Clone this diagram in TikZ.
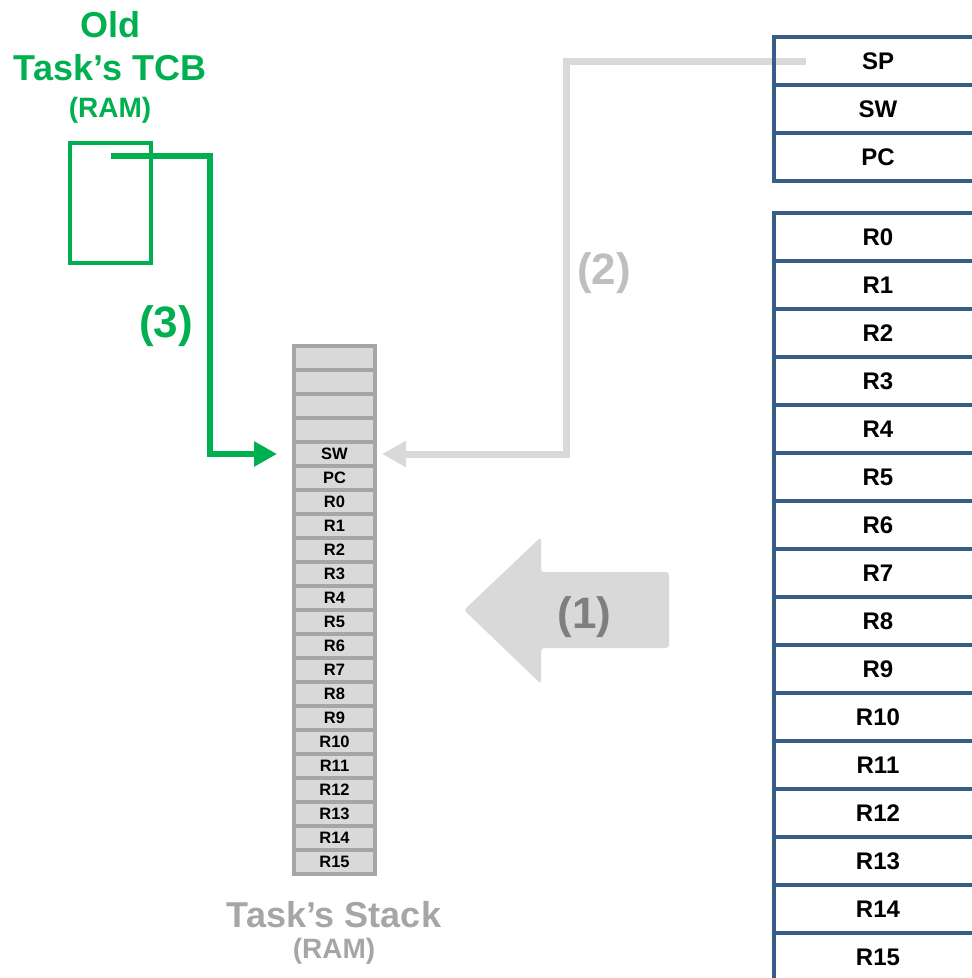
\documentclass[tikz,border=0pt]{standalone}
\usepackage{fontspec}
\setmainfont{Liberation Sans}
\usetikzlibrary{arrows.meta}

\definecolor{tcbgreen}{HTML}{00B050}
\definecolor{regblue}{HTML}{385D8A}
\definecolor{stackfill}{HTML}{D9D9D9}
\definecolor{stackline}{HTML}{A6A6A6}
\definecolor{stepgray}{HTML}{D9D9D9}
\definecolor{steplabel}{HTML}{BFBFBF}
\definecolor{bigarrowlabel}{HTML}{7F7F7F}

\begin{document}
\begin{tikzpicture}[x=1pt, y=-1pt,
	stackcell/.style={draw=stackline, fill=stackfill, line width=4pt, minimum width=81pt, minimum height=24pt, inner sep=0pt, font=\fontsize{16.5}{18}\selectfont\bfseries},
	regcell/.style={draw=regblue, line width=4pt, minimum width=208pt, minimum height=48pt, inner sep=0pt, font=\fontsize{24}{28}\selectfont\bfseries},
	bigtext/.style={font=\fontsize{36}{40}\selectfont\bfseries, anchor=base},
	ramtext/.style={font=\fontsize{28}{32}\selectfont\bfseries, anchor=base},
	steptext/.style={font=\fontsize{44}{48}\selectfont\bfseries, anchor=base},
]
	\clip (0,0) rectangle (972,978);

	% Old task's TCB
	\node[bigtext, text=tcbgreen] (tcbtitle) at (110,37) {Old};
	\node[bigtext, text=tcbgreen] (tcbname) at (110,80) {Task’s TCB};
	\node[ramtext, text=tcbgreen] (tcbram) at (110,117) {(RAM)};
	\node[draw=tcbgreen, line width=4pt, minimum width=81pt, minimum height=120pt] (tcb) at (110.5,203) {};
	\coordinate (tcbptr) at (111,156);

	% Task's stack: four free slots, then the saved context
	\foreach \i in {0,...,3}
		\node[stackcell] (stack-free\i) at (334.5,{358+24*\i}) {};
	\node[stackcell] (stack-sw) at (334.5,454) {SW};
	\node[stackcell] (stack-pc) at (334.5,478) {PC};
	\foreach \r in {0,...,15}
		\node[stackcell] (stack-r\r) at (334.5,{502+24*\r}) {R\r};
	\node[bigtext, text=stackline] (stacktitle) at (334,927) {Task’s Stack};
	\node[ramtext, text=stackline] (stackram) at (334,958) {(RAM)};

	% (1) push the registers onto the stack
	\fill[stepgray, rounded corners=3pt] (669,572) -- (541,572) -- (541,537) -- (464,610)
		-- (541,684) -- (541,648) -- (669,648) -- cycle;
	\node[steptext, text=bigarrowlabel] (step1) at (584.5,628) {(1)};

	% (2) SP now points to the saved SW
	\coordinate (spptr) at (806,61);
	\draw[stepgray, line width=7pt, -{Triangle[length=24pt,width=25pt]}] (spptr) -- ++(-240,0) |- ([xshift=5pt]stack-sw.east);
	\node[steptext, text=steplabel] (step2) at (604,284) {(2)};

	% (3) SP is stored in the old task's TCB
	\draw[tcbgreen, line width=6pt, -{Triangle[length=23pt,width=24pt]}] (tcbptr) -- ++(99,0) |- ([xshift=-15pt]stack-sw.west);
	\node[steptext, text=tcbgreen] (step3) at (166,337) {(3)};

	% CPU registers
	\foreach \name [count=\i from 0] in {SP,SW,PC}
		\node[regcell] (reg-\name) at (878,{61+48*\i}) {\name};
	\foreach \r in {0,...,15}
		\node[regcell] (reg-r\r) at (878,{237+48*\r}) {R\r};
\end{tikzpicture}
\end{document}
